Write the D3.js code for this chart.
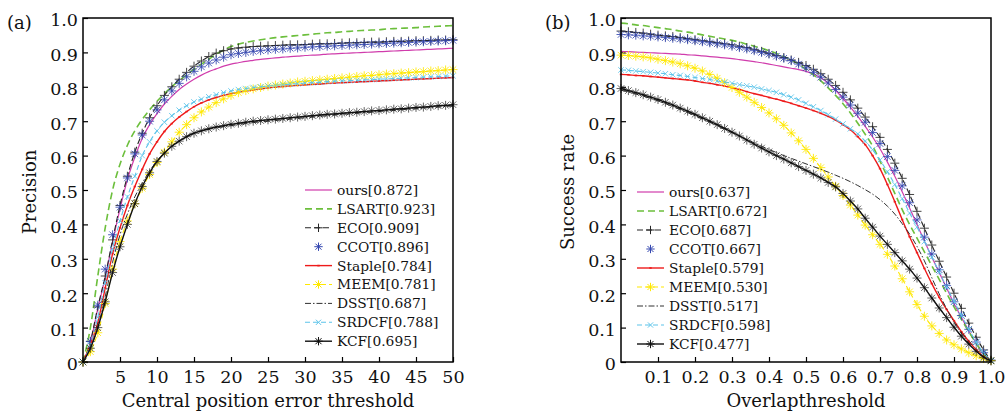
<!DOCTYPE html>
<html>
<head>
<meta charset="utf-8">
<script src="https://cdn.jsdelivr.net/npm/d3@7"></script>
<style>
  body { margin: 0; background: #fff; }
  svg { display: block; font-family: "DejaVu Serif", serif; }
</style>
</head>
<body>
<svg id="chart" width="1006" height="413"></svg>
<script>
// ---- data ----
const errThresholds = d3.range(0, 51);                        // 0..50 px
const overlapThresholds = d3.range(0, 51).map(i => i / 50);   // 0..1

const trackers = ['ours', 'LSART', 'ECO', 'CCOT', 'Staple', 'MEEM', 'DSST', 'SRDCF', 'KCF'];
const precScores = ['0.872', '0.923', '0.909', '0.896', '0.784', '0.781', '0.687', '0.788', '0.695'];
const succScores = ['0.637', '0.672', '0.687', '0.667', '0.579', '0.530', '0.517', '0.598', '0.477'];

const yTicks = [0, 0.1, 0.2, 0.3, 0.4, 0.5, 0.6, 0.7, 0.8, 0.9, 1.0];
const yTickLabels = ['0', '0.1', '0.2', '0.3', '0.4', '0.5', '0.6', '0.7', '0.8', '0.9', '1.0'];
const precXTicks = [5, 10, 15, 20, 25, 30, 35, 40, 45, 50];
const precXLabels = ['5', '10', '15', '20', '25', '30', '35', '40', '45', '50'];
const succXTicks = [0.1, 0.2, 0.3, 0.4, 0.5, 0.6, 0.7, 0.8, 0.9, 1.0];
const succXLabels = ['0.1', '0.2', '0.3', '0.4', '0.5', '0.6', '0.7', '0.8', '0.9', '1.0'];

// precision plot (a), one value per pixel threshold 0..50
const precOurs = [0, 0.055, 0.155, 0.245, 0.35, 0.445, 0.53, 0.595, 0.65, 0.69, 0.722, 0.75, 0.772, 0.792, 0.808, 0.822, 0.834, 0.844, 0.852, 0.86, 0.866,
  0.870, 0.874, 0.877, 0.880, 0.882, 0.884, 0.886, 0.888, 0.889, 0.891, 0.892, 0.893, 0.895, 0.896, 0.897, 0.898, 0.899, 0.900, 0.901, 0.902,
  0.903, 0.904, 0.905, 0.906, 0.907, 0.908, 0.909, 0.910, 0.911, 0.912];
const precLsart = [0, 0.10, 0.25, 0.39, 0.50, 0.575, 0.63, 0.672, 0.705, 0.733, 0.758, 0.78, 0.80, 0.818, 0.835, 0.851, 0.866, 0.88, 0.895, 0.907, 0.917,
  0.924, 0.929, 0.933, 0.937, 0.940, 0.943, 0.945, 0.947, 0.949, 0.951, 0.953, 0.955, 0.957, 0.958, 0.960, 0.961, 0.963, 0.964, 0.965, 0.966,
  0.968, 0.969, 0.970, 0.971, 0.972, 0.974, 0.975, 0.976, 0.977, 0.978];
const precEco = [0, 0.06, 0.16, 0.25, 0.355, 0.455, 0.54, 0.61, 0.665, 0.71, 0.745, 0.775, 0.80, 0.822, 0.842, 0.86, 0.875, 0.888, 0.898, 0.905, 0.91,
  0.913, 0.915, 0.917, 0.918, 0.919, 0.920, 0.921, 0.922, 0.922, 0.923, 0.924, 0.925, 0.925, 0.926, 0.927, 0.928, 0.928, 0.929, 0.930, 0.930,
  0.931, 0.932, 0.932, 0.933, 0.934, 0.934, 0.935, 0.936, 0.936, 0.937];
const precCcot = [0, 0.06, 0.165, 0.27, 0.37, 0.45, 0.535, 0.605, 0.66, 0.70, 0.733, 0.762, 0.788, 0.81, 0.829, 0.845, 0.858, 0.869, 0.878, 0.886, 0.893,
  0.897, 0.900, 0.903, 0.905, 0.907, 0.909, 0.910, 0.912, 0.913, 0.915, 0.916, 0.917, 0.918, 0.919, 0.920, 0.921, 0.922, 0.923, 0.924, 0.925,
  0.926, 0.927, 0.928, 0.929, 0.930, 0.931, 0.932, 0.933, 0.934, 0.935];
const precStaple = [0, 0.05, 0.115, 0.215, 0.315, 0.39, 0.455, 0.51, 0.56, 0.605, 0.64, 0.67, 0.693, 0.712, 0.728, 0.742, 0.753, 0.762, 0.769, 0.775, 0.78,
  0.784, 0.788, 0.791, 0.794, 0.797, 0.799, 0.801, 0.803, 0.804, 0.806, 0.807, 0.808, 0.810, 0.811, 0.812, 0.813, 0.814, 0.815, 0.816, 0.817,
  0.818, 0.819, 0.820, 0.821, 0.822, 0.823, 0.824, 0.825, 0.826, 0.827];
const precMeem = [0, 0.03, 0.085, 0.17, 0.27, 0.35, 0.41, 0.46, 0.505, 0.545, 0.58, 0.61, 0.64, 0.668, 0.69, 0.71, 0.727, 0.741, 0.754, 0.765, 0.775,
  0.783, 0.789, 0.794, 0.798, 0.802, 0.805, 0.808, 0.811, 0.814, 0.816, 0.818, 0.820, 0.822, 0.824, 0.826, 0.828, 0.830, 0.832, 0.833, 0.835,
  0.837, 0.838, 0.840, 0.841, 0.843, 0.844, 0.846, 0.847, 0.849, 0.850];
const precDsst = [0, 0.04, 0.10, 0.19, 0.29, 0.37, 0.43, 0.48, 0.52, 0.555, 0.585, 0.608, 0.627, 0.642, 0.655, 0.665, 0.672, 0.677, 0.681, 0.684, 0.687,
  0.690, 0.693, 0.696, 0.698, 0.700, 0.702, 0.704, 0.706, 0.708, 0.710, 0.712, 0.714, 0.716, 0.718, 0.720, 0.721, 0.723, 0.725, 0.726, 0.728,
  0.730, 0.731, 0.733, 0.735, 0.736, 0.738, 0.740, 0.741, 0.743, 0.744];
const precSrdcf = [0, 0.05, 0.13, 0.23, 0.33, 0.41, 0.48, 0.54, 0.60, 0.64, 0.672, 0.697, 0.716, 0.732, 0.745, 0.756, 0.764, 0.771, 0.777, 0.783, 0.788,
  0.792, 0.795, 0.798, 0.800, 0.802, 0.804, 0.806, 0.808, 0.809, 0.811, 0.812, 0.813, 0.815, 0.816, 0.817, 0.818, 0.819, 0.820, 0.821, 0.822,
  0.823, 0.824, 0.825, 0.826, 0.827, 0.828, 0.829, 0.830, 0.831, 0.832];
const precKcf = [0, 0.04, 0.10, 0.175, 0.26, 0.335, 0.40, 0.46, 0.51, 0.55, 0.583, 0.607, 0.627, 0.642, 0.655, 0.665, 0.672, 0.678, 0.683, 0.687, 0.691,
  0.694, 0.697, 0.700, 0.702, 0.704, 0.706, 0.708, 0.710, 0.712, 0.714, 0.716, 0.718, 0.720, 0.721, 0.723, 0.725, 0.726, 0.728, 0.730, 0.731,
  0.733, 0.735, 0.736, 0.738, 0.740, 0.741, 0.743, 0.745, 0.746, 0.748];

// success plot (b), one value per overlap threshold 0, 0.02, ..., 1
const succOurs = [0.903, 0.902, 0.901, 0.900, 0.899, 0.898, 0.897, 0.896, 0.895, 0.893, 0.892, 0.890, 0.888, 0.886, 0.884, 0.882, 0.879, 0.876, 0.873, 0.870,
  0.866, 0.862, 0.858, 0.854, 0.850, 0.845, 0.837, 0.826, 0.810, 0.790, 0.766, 0.741, 0.714, 0.685, 0.654, 0.620, 0.581, 0.540, 0.495, 0.448,
  0.400, 0.352, 0.305, 0.260, 0.215, 0.170, 0.130, 0.091, 0.055, 0.025, 0.004];
const succLsart = [0.985, 0.983, 0.980, 0.978, 0.975, 0.972, 0.969, 0.966, 0.962, 0.959, 0.955, 0.951, 0.947, 0.943, 0.939, 0.935, 0.930, 0.924, 0.918, 0.912,
  0.905, 0.897, 0.888, 0.878, 0.866, 0.851, 0.835, 0.817, 0.797, 0.775, 0.751, 0.724, 0.694, 0.662, 0.628, 0.584, 0.538, 0.490, 0.443, 0.400,
  0.360, 0.320, 0.280, 0.240, 0.200, 0.160, 0.124, 0.088, 0.054, 0.024, 0.003];
const succEco = [0.962, 0.960, 0.958, 0.956, 0.953, 0.950, 0.948, 0.946, 0.943, 0.940, 0.937, 0.934, 0.931, 0.928, 0.925, 0.922, 0.918, 0.914, 0.909, 0.903,
  0.897, 0.891, 0.885, 0.878, 0.871, 0.862, 0.851, 0.838, 0.822, 0.804, 0.784, 0.762, 0.738, 0.712, 0.684, 0.653, 0.618, 0.578, 0.534, 0.487,
  0.438, 0.389, 0.340, 0.293, 0.247, 0.200, 0.156, 0.113, 0.072, 0.035, 0.005];
const succCcot = [0.952, 0.951, 0.950, 0.948, 0.947, 0.945, 0.943, 0.941, 0.939, 0.937, 0.934, 0.931, 0.928, 0.925, 0.922, 0.918, 0.914, 0.910, 0.905, 0.900,
  0.895, 0.889, 0.883, 0.876, 0.866, 0.855, 0.842, 0.828, 0.811, 0.792, 0.770, 0.747, 0.723, 0.697, 0.667, 0.635, 0.597, 0.557, 0.512, 0.463,
  0.413, 0.363, 0.314, 0.268, 0.222, 0.175, 0.135, 0.095, 0.058, 0.027, 0.005];
const succStaple = [0.836, 0.835, 0.833, 0.832, 0.830, 0.828, 0.826, 0.824, 0.822, 0.820, 0.817, 0.813, 0.810, 0.806, 0.802, 0.797, 0.792, 0.786, 0.780, 0.775,
  0.769, 0.764, 0.758, 0.752, 0.745, 0.738, 0.731, 0.723, 0.714, 0.703, 0.690, 0.675, 0.655, 0.632, 0.600, 0.562, 0.516, 0.466, 0.414, 0.364,
  0.318, 0.272, 0.228, 0.188, 0.153, 0.120, 0.088, 0.060, 0.036, 0.016, 0.003];
const succMeem = [0.892, 0.891, 0.889, 0.887, 0.884, 0.880, 0.876, 0.872, 0.867, 0.861, 0.854, 0.846, 0.836, 0.825, 0.812, 0.798, 0.784, 0.770, 0.755, 0.740,
  0.724, 0.707, 0.688, 0.666, 0.643, 0.618, 0.592, 0.565, 0.538, 0.511, 0.484, 0.456, 0.427, 0.398, 0.370, 0.342, 0.313, 0.279, 0.242, 0.204,
  0.167, 0.133, 0.105, 0.083, 0.064, 0.050, 0.038, 0.027, 0.018, 0.010, 0.004];
const succDsst = [0.790, 0.785, 0.779, 0.773, 0.766, 0.759, 0.751, 0.743, 0.734, 0.725, 0.716, 0.706, 0.697, 0.687, 0.677, 0.667, 0.657, 0.647, 0.637, 0.627,
  0.618, 0.609, 0.600, 0.592, 0.584, 0.576, 0.568, 0.560, 0.552, 0.543, 0.534, 0.524, 0.513, 0.501, 0.488, 0.472, 0.453, 0.430, 0.402, 0.372,
  0.336, 0.294, 0.245, 0.198, 0.155, 0.116, 0.083, 0.055, 0.032, 0.014, 0.003];
const succSrdcf = [0.849, 0.848, 0.846, 0.844, 0.842, 0.840, 0.838, 0.835, 0.833, 0.830, 0.827, 0.824, 0.821, 0.817, 0.814, 0.810, 0.806, 0.803, 0.799, 0.794,
  0.789, 0.784, 0.777, 0.770, 0.762, 0.752, 0.742, 0.731, 0.719, 0.706, 0.692, 0.678, 0.663, 0.642, 0.617, 0.587, 0.553, 0.516, 0.475, 0.433,
  0.392, 0.350, 0.305, 0.262, 0.218, 0.176, 0.136, 0.095, 0.058, 0.026, 0.004];
const succKcf = [0.795, 0.789, 0.783, 0.777, 0.770, 0.763, 0.755, 0.747, 0.738, 0.729, 0.720, 0.710, 0.700, 0.690, 0.679, 0.668, 0.657, 0.645, 0.633, 0.622,
  0.611, 0.600, 0.590, 0.579, 0.568, 0.557, 0.546, 0.535, 0.522, 0.509, 0.490, 0.468, 0.445, 0.418, 0.392, 0.366, 0.342, 0.318, 0.294, 0.270,
  0.244, 0.216, 0.186, 0.157, 0.129, 0.101, 0.075, 0.052, 0.031, 0.014, 0.003];

// ---- styles (matlab-ish) ----
const styles = {
  ours:   { color: '#d03cac', dash: null,          width: 1.2, marker: null },
  LSART:  { color: '#6cbf3c', dash: '7,4',         width: 1.6, marker: null },
  ECO:    { color: '#262626', dash: '6,3',         width: 1.1, marker: 'plus' },
  CCOT:   { color: '#3447b0', dash: 'none',        width: 0,   marker: 'star' },
  Staple: { color: '#ee1a1a', dash: null,          width: 1.4, marker: 'dot' },
  MEEM:   { color: '#ffe800', dash: '5,3',         width: 1.1, marker: 'star' },
  DSST:   { color: '#303030', dash: '6,2,1.5,2',   width: 1.0, marker: null },
  SRDCF:  { color: '#5cc4ea', dash: '5,3',         width: 1.1, marker: 'x' },
  KCF:    { color: '#111111', dash: null,          width: 1.4, marker: 'star' },
};

function markerPath(type, s) {
  const k = s * 0.72;
  const plus = `M${-s},0H${s}M0,${-s}V${s}`;
  const cross = `M${-k},${-k}L${k},${k}M${-k},${k}L${k},${-k}`;
  if (type === 'plus') return plus;
  if (type === 'x') return cross;
  if (type === 'star') return plus + cross;
  if (type === 'dot') return 'M-1.2,0H1.2';
  return '';
}

const svg = d3.select('#chart');
svg.append('rect').attr('width', 1006).attr('height', 413).attr('fill', '#fff');

function drawPanel(cfg) {
  const x = d3.scaleLinear().domain(cfg.xDomain).range([cfg.left, cfg.right]);
  const y = d3.scaleLinear().domain([0, 1]).range([cfg.bottom, cfg.top]);
  const g = svg.append('g');

  // axes with inward ticks
  const xAxis = d3.axisBottom(x)
    .tickValues(cfg.xTicks)
    .tickFormat((d, i) => cfg.xLabels[i])
    .tickSizeInner(-5).tickSizeOuter(0).tickPadding(9);
  const yAxis = d3.axisLeft(y)
    .tickValues(yTicks)
    .tickFormat((d, i) => yTickLabels[i])
    .tickSizeInner(-5).tickSizeOuter(0).tickPadding(5);

  const gx = g.append('g').attr('transform', `translate(0,${cfg.bottom})`).call(xAxis);
  const gy = g.append('g').attr('transform', `translate(${cfg.left},0)`).call(yAxis);
  [gx, gy].forEach(a => {
    a.select('.domain').remove();
    a.selectAll('.tick line').attr('stroke', '#000').attr('stroke-width', 1.2);
    a.selectAll('.tick text').attr('fill', '#111')
      .style('font-family', '"DejaVu Serif", serif').style('font-size', '17.5px');
  });
  gy.selectAll('.tick text').attr('dy', '0.45em');

  // curves
  const line = d3.line()
    .x(d => x(d[0]))
    .y(d => y(d[1]))
    .curve(d3.curveMonotoneX);

  trackers.forEach((name, i) => {
    const st = styles[name];
    const pts = cfg.xs.map((t, j) => [t, cfg.series[i][j]]);
    if (st.width > 0) {
      g.append('path')
        .datum(pts)
        .attr('d', line)
        .attr('fill', 'none')
        .attr('stroke', st.color)
        .attr('stroke-width', st.width)
        .attr('stroke-dasharray', st.dash);
    }
    if (st.marker) {
      const s = st.marker === 'x' ? 3.8 : 4.5;
      g.append('g')
        .selectAll('path')
        .data(pts)
        .join('path')
        .attr('transform', d => `translate(${x(d[0])},${y(d[1])})`)
        .attr('d', markerPath(st.marker, s))
        .attr('fill', 'none')
        .attr('stroke', st.color)
        .attr('stroke-width', st.marker === 'dot' ? 1.6 : 1.0)
        .attr('stroke-opacity', name === 'KCF' ? 0.65 : 0.85);
    }
  });

  // frame
  g.append('rect')
    .attr('x', cfg.left).attr('y', cfg.top)
    .attr('width', cfg.right - cfg.left).attr('height', cfg.bottom - cfg.top)
    .attr('fill', 'none').attr('stroke', '#000').attr('stroke-width', 1.5);

  // legend
  const lg = g.append('g');
  trackers.forEach((name, i) => {
    const st = styles[name];
    const ly = cfg.legendY + cfg.legendStep * i;
    if (st.width > 0) {
      lg.append('line')
        .attr('x1', cfg.legendX).attr('x2', cfg.legendX + 27)
        .attr('y1', ly).attr('y2', ly)
        .attr('stroke', st.color).attr('stroke-width', st.width)
        .attr('stroke-dasharray', st.dash);
    }
    if (st.marker) {
      lg.append('path')
        .attr('transform', `translate(${cfg.legendX + 13.5},${ly})`)
        .attr('d', markerPath(st.marker, st.marker === 'x' ? 3.6 : 4.2))
        .attr('fill', 'none').attr('stroke', st.color)
        .attr('stroke-width', st.marker === 'dot' ? 1.6 : 1);
    }
    lg.append('text')
      .attr('x', cfg.legendX + 32).attr('y', ly).attr('dy', '0.36em')
      .style('font-size', '13.8px').attr('fill', '#111')
      .text(`${name}[${cfg.scores[i]}]`);
  });

  // titles
  g.append('text')
    .attr('x', (cfg.left + cfg.right) / 2).attr('y', 407)
    .attr('text-anchor', 'middle').style('font-size', '18px').attr('fill', '#111')
    .text(cfg.xTitle);
  g.append('text')
    .attr('transform', `translate(${cfg.left - 47},${(cfg.top + cfg.bottom) / 2 + 2}) rotate(-90)`)
    .attr('text-anchor', 'middle').style('font-size', '18px').attr('fill', '#111')
    .text(cfg.yTitle);
  g.append('text')
    .attr('x', cfg.left - 76).attr('y', 23).attr('dy', '0.35em')
    .style('font-size', '18px').attr('fill', '#111')
    .text(cfg.label);
}

drawPanel({
  left: 83, right: 453, top: 18, bottom: 362,
  xDomain: [0, 50], xTicks: precXTicks, xLabels: precXLabels,
  xs: errThresholds,
  series: [precOurs, precLsart, precEco, precCcot, precStaple, precMeem, precDsst, precSrdcf, precKcf],
  scores: precScores,
  legendX: 305, legendY: 190, legendStep: 18.9,
  xTitle: 'Central position error threshold', yTitle: 'Precision', label: '(a)',
});

drawPanel({
  left: 621, right: 991, top: 18, bottom: 362,
  xDomain: [0, 1], xTicks: succXTicks, xLabels: succXLabels,
  xs: overlapThresholds,
  series: [succOurs, succLsart, succEco, succCcot, succStaple, succMeem, succDsst, succSrdcf, succKcf],
  scores: succScores,
  legendX: 637, legendY: 192, legendStep: 19,
  xTitle: 'Overlapthreshold', yTitle: 'Success rate', label: '(b)',
});
</script>
</body>
</html>
